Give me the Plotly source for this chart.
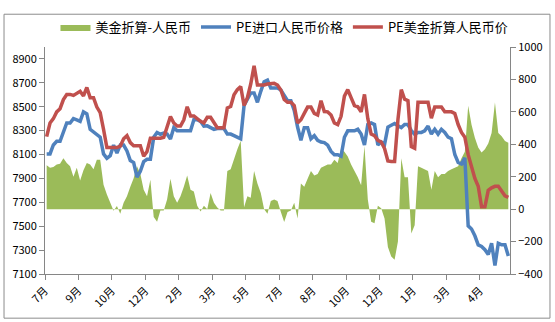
import plotly.graph_objects as go

# Month labels along the category axis (one every 10 trading samples)
months = ["7月", "9月", "10月", "12月", "2月", "3月", "5月", "7月", "8月",
          "10月", "12月", "1月", "3月", "4月"]

# PE import price in RMB (left axis)
pe_cny = [
    8105, 8105, 8180, 8211, 8211, 8298, 8364, 8364, 8400, 8390,
    8378, 8457, 8440, 8311, 8290, 8271, 8245, 8105, 8068, 8090,
    8179, 8113, 8179, 8179, 8130, 8050, 8033, 7910, 7960, 8040,
    8060, 8060, 8245, 8285, 8270, 8280, 8271, 8230, 8325, 8298,
    8298, 8298, 8298, 8298, 8391, 8391, 8378, 8338, 8340, 8325,
    8311, 8318, 8318, 8318, 8271, 8271, 8258, 8245, 8232, 8510,
    8560, 8616, 8616, 8537, 8629, 8709, 8722, 8656, 8656, 8656,
    8640, 8600, 8550, 8550, 8470, 8330, 8219, 8325, 8325, 8232,
    8258, 8219, 8205, 8200, 8179, 8126, 8099, 8099, 8086, 8245,
    8298, 8298, 8298, 8311, 8271, 8179, 8351, 8364, 8351, 8180,
    8205, 8185, 8330, 8345, 8360, 8340, 8325, 8351, 8351, 8300,
    8270, 8285, 8285, 8298, 8338, 8271, 8311, 8271, 8311, 8285,
    8245, 8232, 8100, 8033, 8020, 8073, 7503, 7476, 7420, 7344,
    7331, 7304, 7264, 7358, 7172, 7357, 7344, 7344, 7251,
]

# PE dollar price converted to RMB (left axis)
pe_usd_cny = [
    8250, 8364, 8400, 8457, 8484, 8560, 8603, 8603, 8595, 8610,
    8629, 8590, 8661, 8576, 8576, 8497, 8450, 8311, 8158, 8158,
    8158, 8158, 8170, 8232, 8258, 8200, 8174, 8174, 8174, 8086,
    8126, 8237, 8237, 8237, 8237, 8245, 8325, 8418, 8364, 8338,
    8338, 8391, 8500, 8423, 8423, 8400, 8378, 8364, 8412, 8412,
    8364, 8325, 8325, 8325, 8490, 8502, 8600, 8643, 8669, 8510,
    8576, 8690, 8842, 8682, 8682, 8682, 8690, 8696, 8696, 8682,
    8640, 8560, 8537, 8537, 8510, 8364, 8391, 8444, 8497, 8497,
    8444, 8431, 8550, 8460, 8457, 8431, 8364, 8351, 8420, 8589,
    8643, 8576, 8510, 8500, 8457, 8603, 8400, 8271, 8258, 8219,
    8205, 8150, 8046, 8041, 8041, 8391, 8643, 8563, 8550, 8166,
    8152, 8537, 8537, 8537, 8537, 8404, 8497, 8497, 8497, 8457,
    8457, 8457, 8444, 8351, 8285, 8245, 8099, 7993, 7900, 7834,
    7662, 7662, 7800, 7821, 7834, 7834, 7794, 7755, 7742,
]

# Spread: dollar-converted price minus RMB price (right axis)
spread = [
    270, 256, 260, 275, 280, 314, 285, 265, 200, 256,
    177, 240, 285, 275, 246, 305, 305, 150, 90, 40,
    -10, 20, -28, 39, 79, 138, 190, 265, 217, 120,
    79, 181, -48, -77, -9, -9, 60, 187, 80, 40,
    79, 138, 207, 119, 109, 21, -15, 21, 0, 99,
    40, 10, -9, -9, 236, 246, 310, 370, 422, 12,
    79, 70, 236, 158, 99, 0, -28, 50, 60, 50,
    -18, -80, -18, -9, 40, -58, 158, 138, 187, 236,
    207, 217, 256, 265, 275, 275, 305, 285, 373, 354,
    324, 275, 236, 197, 148, 390, 60, -77, -87, 21,
    5, -58, -233, -292, -312, -200, 314, 197, 197, -150,
    -100, 265, 256, 246, 236, 119, 236, 197, 217, 217,
    236, 246, 256, 265, 314, 354, 637, 520, 440, 380,
    350, 370, 405, 470, 657, 470, 450, 420, 410,
]

price_ticks = list(range(7100, 8901, 200))
spread_ticks = list(range(-400, 1001, 200))

n = len(pe_cny)
x = list(range(n))
tick_pos = [10 * k - 0.5 for k in range(len(months))]

W, H = 555, 322
ML, MR, MT, MB = 42, 42, 35, 48
pw, ph = W - ML - MR, H - MT - MB

font_family = "Noto Sans CJK SC, Noto Sans, sans-serif"
axis_grey = "#868686"

fig = go.Figure()

# Spread area sits on the primary axis (drawn first, behind the lines)
fig.add_trace(go.Scatter(
    x=x, y=spread, name="美金折算-人民币", mode="lines",
    line=dict(width=0, color="#9BBB59"),
    fill="tozeroy", fillcolor="#9BBB59", yaxis="y",
))
fig.add_trace(go.Scatter(
    x=x, y=pe_cny, name="PE进口人民币价格", mode="lines",
    line=dict(color="#4F81BD", width=3.5), yaxis="y2",
))
fig.add_trace(go.Scatter(
    x=x, y=pe_usd_cny, name="PE美金折算人民币价", mode="lines",
    line=dict(color="#C0504D", width=3.5), yaxis="y2",
))

fig.update_layout(
    width=W, height=H,
    margin=dict(l=ML, r=MR, t=MT, b=MB, pad=0),
    paper_bgcolor="white", plot_bgcolor="white",
    font=dict(family=font_family, size=11, color="#000000"),
    showlegend=True,
    legend=dict(
        orientation="h", x=0.515, xanchor="center",
        y=1 + (MT - 14) / ph, yanchor="middle",
        font=dict(size=13), itemwidth=30, tracegroupgap=0,
        bgcolor="rgba(0,0,0,0)",
    ),
    xaxis=dict(
        range=[-0.5, n - 0.5], tickmode="array",
        tickvals=tick_pos, ticktext=months, tickangle=-45,
        ticks="outside", ticklen=5, tickcolor=axis_grey,
        showline=True, linecolor=axis_grey, linewidth=1,
        showgrid=False, zeroline=False, fixedrange=True,
    ),
    yaxis=dict(
        range=[-400, 1000], tickmode="array", tickvals=spread_ticks,
        side="right", ticks="outside", ticklen=5, tickcolor=axis_grey,
        showline=True, linecolor=axis_grey, linewidth=1,
        showgrid=False, zeroline=False,
    ),
    yaxis2=dict(
        range=[7100, 9000], tickmode="array", tickvals=price_ticks,
        side="left", overlaying="y", ticks="outside", ticklen=5,
        tickcolor=axis_grey, showline=True, linecolor=axis_grey,
        linewidth=1, showgrid=False, zeroline=False,
    ),
    shapes=[dict(
        type="rect", xref="paper", yref="paper",
        x0=(-ML + 0.5) / pw, x1=1 + (MR - 1.5) / pw,
        y0=(-MB + 1.5) / ph, y1=1 + (MT - 0.5) / ph,
        line=dict(color="#8C8C8C", width=1), fillcolor="rgba(0,0,0,0)",
        layer="below",
    )],
)

fig.write_html("out.html")
